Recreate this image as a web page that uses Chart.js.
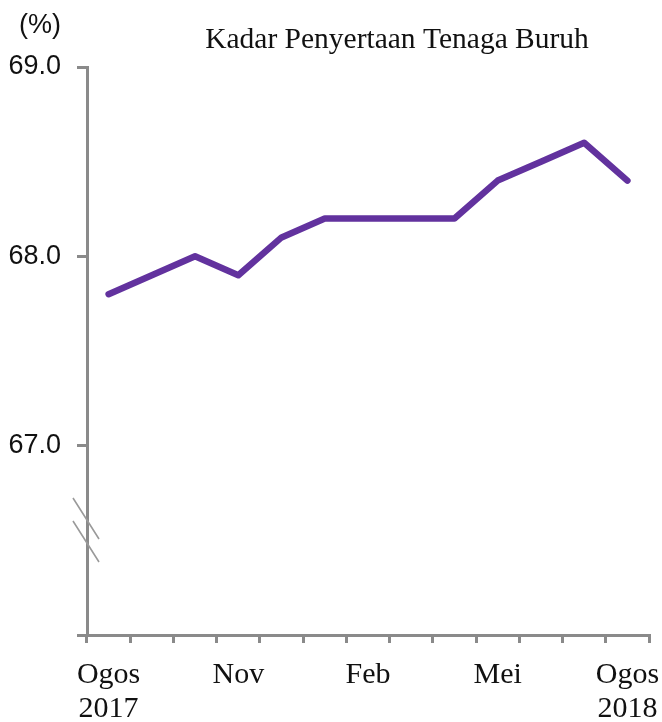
<!DOCTYPE html>
<html>
<head>
<meta charset="utf-8">
<script src="https://cdn.jsdelivr.net/npm/chart.js@4"></script>
<style>
html,body{margin:0;padding:0;background:#fff;}
#wrap{width:662px;height:722px;}
</style>
</head>
<body>
<div id="wrap"><canvas id="c" width="662" height="722"></canvas></div>
<script>
const categories = [
  ['Ogos','2017'], 'Sep', 'Okt', 'Nov', 'Dis', 'Jan', 'Feb', 'Mac', 'Apr', 'Mei', 'Jun', 'Jul', ['Ogos','2018']
];
const shownLabelIdx = [0, 3, 6, 9, 12];
const lfprValues = [67.8, 67.9, 68.0, 67.9, 68.1, 68.2, 68.2, 68.2, 68.2, 68.4, 68.5, 68.6, 68.4];
const yTicks = [66.0, 67.0, 68.0, 69.0];
const hiddenYTick = 66.0;
const titleText = 'Kadar Penyertaan Tenaga Buruh';
const unitText = '(%)';

const axisGray = '#8a8a8a';

const overlay = {
  id: 'overlay',
  afterDraw(chart) {
    const ctx = chart.ctx;
    const xa = chart.chartArea;
    ctx.save();
    ctx.fillStyle = '#111';
    ctx.font = '29.5px "Liberation Serif", "Times New Roman", serif';
    ctx.textAlign = 'center';
    ctx.textBaseline = 'alphabetic';
    ctx.fillText(titleText, 397, 48);
    ctx.font = '27px "Liberation Sans", Arial, sans-serif';
    ctx.fillText(unitText, 40, 33);
    ctx.strokeStyle = '#9a9a9a';
    ctx.lineWidth = 1.6;
    ctx.beginPath();
    ctx.moveTo(xa.left - 14, 498); ctx.lineTo(xa.left + 12, 539);
    ctx.moveTo(xa.left - 14, 521); ctx.lineTo(xa.left + 12, 562);
    ctx.stroke();
    ctx.restore();
  }
};

new Chart(document.getElementById('c'), {
  type: 'line',
  data: {
    labels: categories,
    datasets: [{
      data: lfprValues,
      borderColor: 'rgb(98,50,158)',
      borderWidth: 6.5,
      pointRadius: 0,
      tension: 0,
      borderCapStyle: 'round',
      borderJoinStyle: 'round',
      fill: false
    }]
  },
  options: {
    responsive: false,
    animation: false,
    layout: { padding: { top: 67, right: 13, left: 0, bottom: 0 } },
    plugins: { legend: { display: false }, title: { display: false }, tooltip: { enabled: false } },
    scales: {
      x: {
        type: 'category',
        offset: true,
        afterFit(s) { s.height = 87; s.paddingLeft = 0; s.paddingRight = 0; },
        grid: { offset: true, drawOnChartArea: false, color: axisGray, lineWidth: 3, tickLength: 8 },
        border: { color: axisGray, width: 3 },
        ticks: {
          autoSkip: false, maxRotation: 0, minRotation: 0, padding: 15,
          color: '#111',
          font: { family: '"Liberation Serif", "Times New Roman", serif', size: 30, lineHeight: 1.13 },
          callback(v, i) { return shownLabelIdx.includes(i) ? categories[i] : ''; }
        }
      },
      y: {
        min: yTicks[0], max: yTicks[yTicks.length - 1],
        afterFit(s) { s.width = 87; s.paddingTop = 0; s.paddingBottom = 0; },
        afterBuildTicks(s) { s.ticks = yTicks.map(v => ({ value: v })); },
        grid: { drawOnChartArea: false, color: axisGray, lineWidth: 3, tickLength: 10 },
        border: { color: axisGray, width: 3 },
        ticks: {
          padding: 16, color: '#111',
          font: { family: '"Liberation Sans", Arial, sans-serif', size: 27 },
          callback(v) { return v === hiddenYTick ? '' : v.toFixed(1); }
        }
      }
    }
  },
  plugins: [overlay]
});
</script>
</body>
</html>
